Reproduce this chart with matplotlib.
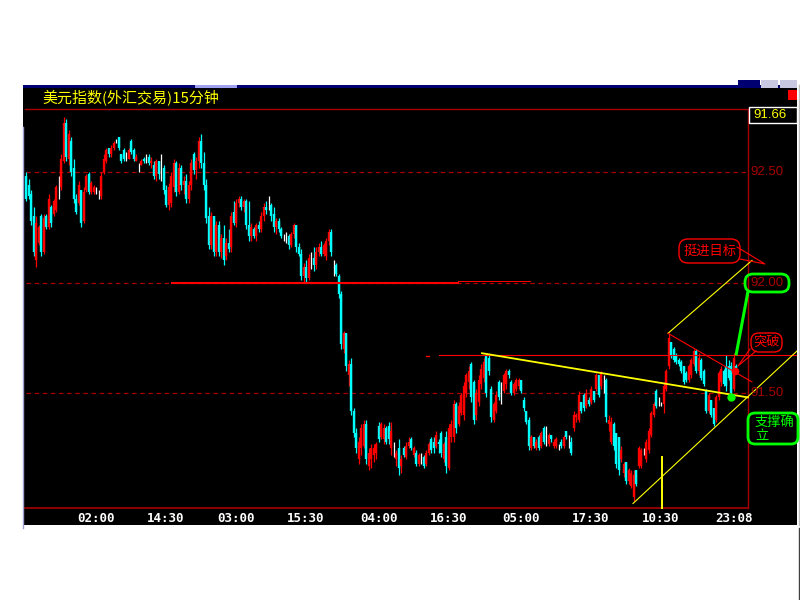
import numpy as np
import matplotlib
matplotlib.use("Agg")
from matplotlib import pyplot as plt
from matplotlib.patches import Rectangle, FancyBboxPatch
from matplotlib.lines import Line2D
from matplotlib.transforms import IdentityTransform

CJK = ['Noto Sans CJK SC', 'DejaVu Sans']
NARROW = ['Liberation Sans Narrow', 'Liberation Sans', 'DejaVu Sans']

title = "美元指数(外汇交易)15分钟"
time_labels = ["02:00", "14:30", "03:00", "15:30", "04:00",
               "16:30", "05:00", "17:30", "10:30", "23:08"]
time_pos = [28, 56, 84, 112, 141, 169, 198, 226, 254, 283]
price_levels = [92.50, 92.00, 91.50]
price_labels = ["92.50", "92.00", "91.50"]
last_price = "91.66"

# 15 min bars
opens = [
    # first block
    92.48, 92.44, 92.40, 92.30, 92.10, 92.18, 92.30, 92.14, 92.30, 92.25, 92.34, 92.31,
    92.33, 92.43, 92.43, 92.55, 92.72, 92.56, 92.64, 92.52, 92.38, 92.36, 92.42, 92.28,
    92.42, 92.49, 92.41, 92.41, 92.42, 92.40, 92.39, 92.50, 92.55, 92.61, 92.58, 92.61,
    92.64, 92.66, 92.58, 92.60, 92.57, 92.56, 92.64, 92.60, 92.55, 92.52, 92.53, 92.56,
    # second block
    92.57, 92.57, 92.54, 92.53, 92.48, 92.55, 92.52, 92.52, 92.42, 92.35, 92.36, 92.43,
    92.54, 92.41, 92.52, 92.44, 92.46, 92.38, 92.44, 92.58, 92.51, 92.55, 92.64, 92.54,
    92.44, 92.30, 92.17, 92.30, 92.14, 92.26, 92.14, 92.20, 92.12, 92.18, 92.16, 92.32,
    92.27, 92.36, 92.38, 92.34, 92.37, 92.26, 92.21, 92.24, 92.21, 92.26, 92.24, 92.30,
    92.34, 92.35, 92.35, 92.31, 92.25, 92.28, 92.24, 92.21, 92.21, 92.21, 92.17, 92.22,
    92.26, 92.16, 92.13, 92.03, 92.07, 92.02, 92.11, 92.11, 92.08, 92.14, 92.16, 92.13,
    92.12, 92.19, 92.23, 92.08, 92.08, 92.03, 91.95, 91.70, 91.77, 91.58, 91.63, 91.42,
    91.32, 91.20, 91.25, 91.26, 91.36, 91.17, 91.20, 91.22, 91.23,
    # third block
    91.35, 91.30, 91.29, 91.34, 91.35, 91.25, 91.26, 91.20, 91.25, 91.17, 91.25, 91.21,
    91.26, 91.29, 91.22, 91.23, 91.18, 91.22, 91.21, 91.18, 91.23, 91.29, 91.28, 91.26,
    91.28, 91.32, 91.20, 91.30, 91.16, 91.30, 91.30, 91.45, 91.36, 91.41, 91.40, 91.50,
    91.55, 91.63, 91.55, 91.40, 91.46, 91.54, 91.57, 91.67, 91.66, 91.52, 91.38, 91.42,
    91.55, 91.50, 91.51, 91.54, 91.60, 91.55, 91.50, 91.52, 91.53, 91.56,
    # last block
    91.47, 91.42, 91.38, 91.25, 91.30, 91.25, 91.30, 91.26, 91.34, 91.30, 91.27, 91.31,
    91.26, 91.26, 91.25, 91.28, 91.26, 91.33, 91.29, 91.28, 91.34, 91.39, 91.38, 91.46,
    91.49, 91.44, 91.47, 91.46, 91.51, 91.52, 91.58, 91.53, 91.55, 91.56, 91.36, 91.28,
    91.36, 91.32, 91.30, 91.20, 91.14, 91.19, 91.10, 91.08, 91.03, 91.15, 91.17, 91.17,
    91.23, 91.20, 91.24, 91.31, 91.40, 91.51, 91.46, 91.45, 91.45, 91.52, 91.62, 91.73,
    91.70, 91.67, 91.65, 91.64, 91.62, 91.59, 91.56, 91.58, 91.63, 91.69, 91.60, 91.65,
    91.60, 91.51, 91.42, 91.47, 91.43, 91.38, 91.48, 91.55, 91.60, 91.62, 91.62, 91.62,
    91.52, 91.62,
]
highs = [
    92.50, 92.47, 92.42, 92.34, 92.30, 92.26, 92.31, 92.31, 92.31, 92.40, 92.35, 92.38,
    92.44, 92.48, 92.58, 92.75, 92.74, 92.69, 92.66, 92.56, 92.40, 92.46, 92.42, 92.43,
    92.49, 92.50, 92.46, 92.44, 92.43, 92.42, 92.50, 92.58, 92.61, 92.61, 92.62, 92.64,
    92.65, 92.66, 92.58, 92.61, 92.59, 92.61, 92.65, 92.61, 92.58, 92.54, 92.56, 92.57,
    92.58, 92.58, 92.57, 92.55, 92.56, 92.55, 92.58, 92.53, 92.44, 92.45, 92.50, 92.56,
    92.55, 92.54, 92.53, 92.48, 92.49, 92.46, 92.56, 92.59, 92.57, 92.66, 92.67, 92.59,
    92.47, 92.34, 92.32, 92.30, 92.28, 92.28, 92.22, 92.26, 92.20, 92.24, 92.32, 92.37,
    92.38, 92.39, 92.39, 92.38, 92.38, 92.37, 92.27, 92.25, 92.27, 92.28, 92.32, 92.36,
    92.37, 92.39, 92.36, 92.34, 92.29, 92.29, 92.25, 92.22, 92.23, 92.22, 92.23, 92.27,
    92.26, 92.18, 92.15, 92.09, 92.10, 92.13, 92.14, 92.16, 92.16, 92.18, 92.19, 92.18,
    92.20, 92.24, 92.24, 92.10, 92.09, 92.04, 91.96, 91.78, 91.77, 91.65, 91.66, 91.43,
    91.34, 91.30, 91.36, 91.38, 91.38, 91.25, 91.27, 91.27, 91.28,
    91.37, 91.37, 91.36, 91.35, 91.37, 91.37, 91.28, 91.24, 91.29, 91.22, 91.26, 91.28,
    91.30, 91.30, 91.26, 91.24, 91.23, 91.23, 91.22, 91.24, 91.28, 91.30, 91.30, 91.33,
    91.29, 91.33, 91.28, 91.33, 91.36, 91.38, 91.47, 91.46, 91.46, 91.50, 91.55, 91.59,
    91.62, 91.64, 91.56, 91.52, 91.58, 91.63, 91.66, 91.68, 91.67, 91.53, 91.46, 91.51,
    91.56, 91.55, 91.59, 91.61, 91.61, 91.56, 91.55, 91.57, 91.57, 91.56,
    91.48, 91.42, 91.39, 91.31, 91.30, 91.29, 91.31, 91.33, 91.35, 91.35, 91.32, 91.31,
    91.29, 91.30, 91.27, 91.29, 91.31, 91.33, 91.31, 91.30, 91.42, 91.41, 91.51, 91.46,
    91.50, 91.52, 91.48, 91.53, 91.51, 91.59, 91.58, 91.60, 91.58, 91.57, 91.40, 91.39,
    91.37, 91.32, 91.30, 91.26, 91.19, 91.19, 91.16, 91.15, 91.15, 91.15, 91.26, 91.25,
    91.25, 91.29, 91.34, 91.42, 91.46, 91.52, 91.48, 91.46, 91.55, 91.61, 91.77, 91.73,
    91.71, 91.68, 91.66, 91.65, 91.62, 91.60, 91.63, 91.66, 91.70, 91.70, 91.68, 91.66,
    91.61, 91.52, 91.50, 91.47, 91.43, 91.49, 91.60, 91.62, 91.61, 91.67, 91.65, 91.64,
    91.68, 91.63,
]
lows = [
    92.37, 92.38, 92.26, 92.12, 92.07, 92.17, 92.12, 92.13, 92.24, 92.24, 92.25, 92.30,
    92.32, 92.38, 92.42, 92.54, 92.55, 92.53, 92.48, 92.36, 92.31, 92.35, 92.25, 92.27,
    92.41, 92.40, 92.40, 92.40, 92.40, 92.38, 92.38, 92.49, 92.54, 92.57, 92.57, 92.60,
    92.63, 92.60, 92.54, 92.55, 92.55, 92.56, 92.58, 92.55, 92.55, 92.50, 92.53, 92.54,
    92.54, 92.53, 92.52, 92.47, 92.46, 92.47, 92.46, 92.40, 92.34, 92.33, 92.34, 92.41,
    92.39, 92.40, 92.42, 92.40, 92.36, 92.36, 92.42, 92.49, 92.47, 92.52, 92.52, 92.42,
    92.27, 92.15, 92.15, 92.12, 92.12, 92.12, 92.11, 92.08, 92.10, 92.14, 92.14, 92.26,
    92.25, 92.34, 92.33, 92.32, 92.24, 92.19, 92.19, 92.20, 92.19, 92.23, 92.23, 92.28,
    92.31, 92.33, 92.28, 92.23, 92.22, 92.23, 92.20, 92.19, 92.18, 92.15, 92.16, 92.20,
    92.14, 92.12, 92.01, 92.00, 92.00, 92.01, 92.06, 92.05, 92.06, 92.12, 92.12, 92.12,
    92.10, 92.17, 92.12, 92.03, 92.03, 91.93, 91.70, 91.68, 91.60, 91.53, 91.40, 91.30,
    91.23, 91.18, 91.22, 91.25, 91.18, 91.15, 91.16, 91.19, 91.20,
    91.28, 91.29, 91.27, 91.27, 91.27, 91.22, 91.21, 91.17, 91.13, 91.14, 91.21, 91.20,
    91.25, 91.24, 91.21, 91.17, 91.17, 91.18, 91.16, 91.17, 91.22, 91.23, 91.23, 91.25,
    91.23, 91.21, 91.19, 91.14, 91.15, 91.28, 91.28, 91.32, 91.35, 91.40, 91.38, 91.48,
    91.52, 91.46, 91.36, 91.38, 91.44, 91.52, 91.55, 91.48, 91.58, 91.37, 91.37, 91.41,
    91.47, 91.45, 91.50, 91.52, 91.57, 91.49, 91.49, 91.51, 91.52, 91.50,
    91.42, 91.36, 91.24, 91.24, 91.25, 91.24, 91.24, 91.25, 91.27, 91.26, 91.26, 91.28,
    91.25, 91.25, 91.24, 91.25, 91.25, 91.29, 91.25, 91.22, 91.33, 91.37, 91.37, 91.41,
    91.42, 91.43, 91.44, 91.45, 91.46, 91.51, 91.48, 91.52, 91.50, 91.37, 91.33, 91.27,
    91.24, 91.16, 91.13, 91.19, 91.12, 91.09, 91.09, 91.07, 91.01, 91.08, 91.16, 91.16,
    91.22, 91.19, 91.23, 91.30, 91.39, 91.43, 91.44, 91.44, 91.41, 91.51, 91.61, 91.66,
    91.64, 91.63, 91.62, 91.59, 91.54, 91.55, 91.55, 91.57, 91.62, 91.59, 91.58, 91.56,
    91.53, 91.41, 91.41, 91.39, 91.35, 91.37, 91.47, 91.53, 91.53, 91.51, 91.56, 91.49,
    91.51, 91.59,
]
closes = [
    92.38, 92.39, 92.28, 92.14, 92.27, 92.25, 92.14, 92.29, 92.25, 92.38, 92.27, 92.37,
    92.43, 92.43, 92.56, 92.72, 92.57, 92.67, 92.50, 92.38, 92.32, 92.44, 92.27, 92.41,
    92.48, 92.41, 92.45, 92.43, 92.42, 92.40, 92.48, 92.56, 92.60, 92.58, 92.61, 92.63,
    92.64, 92.61, 92.55, 92.56, 92.57, 92.60, 92.59, 92.56, 92.57, 92.52, 92.55, 92.55,
    92.57, 92.54, 92.55, 92.48, 92.55, 92.49, 92.52, 92.42, 92.35, 92.43, 92.48, 92.54,
    92.41, 92.52, 92.44, 92.46, 92.38, 92.44, 92.54, 92.51, 92.55, 92.64, 92.54, 92.44,
    92.29, 92.17, 92.30, 92.14, 92.26, 92.14, 92.20, 92.10, 92.18, 92.15, 92.30, 92.27,
    92.36, 92.38, 92.34, 92.37, 92.26, 92.21, 92.25, 92.21, 92.26, 92.24, 92.30, 92.34,
    92.33, 92.35, 92.30, 92.25, 92.28, 92.24, 92.21, 92.21, 92.21, 92.17, 92.22, 92.26,
    92.16, 92.13, 92.03, 92.07, 92.02, 92.11, 92.11, 92.08, 92.14, 92.16, 92.13, 92.17,
    92.19, 92.23, 92.14, 92.08, 92.04, 91.95, 91.72, 91.77, 91.62, 91.63, 91.42, 91.32,
    91.25, 91.28, 91.34, 91.36, 91.20, 91.23, 91.25, 91.25, 91.27,
    91.29, 91.36, 91.34, 91.28, 91.29, 91.33, 91.26, 91.23, 91.16, 91.20, 91.22, 91.26,
    91.28, 91.25, 91.25, 91.18, 91.22, 91.22, 91.17, 91.23, 91.27, 91.24, 91.25, 91.31,
    91.27, 91.23, 91.27, 91.17, 91.34, 91.36, 91.45, 91.34, 91.44, 91.49, 91.53, 91.58,
    91.60, 91.48, 91.38, 91.50, 91.56, 91.61, 91.64, 91.50, 91.60, 91.39, 91.45, 91.49,
    91.48, 91.50, 91.58, 91.60, 91.58, 91.50, 91.54, 91.56, 91.56, 91.51,
    91.43, 91.37, 91.26, 91.30, 91.26, 91.28, 91.25, 91.32, 91.28, 91.30, 91.31, 91.29,
    91.28, 91.29, 91.25, 91.26, 91.30, 91.30, 91.29, 91.23, 91.40, 91.40, 91.49, 91.42,
    91.43, 91.50, 91.45, 91.52, 91.47, 91.58, 91.49, 91.59, 91.55, 91.39, 91.38, 91.37,
    91.26, 91.18, 91.15, 91.24, 91.18, 91.10, 91.15, 91.14, 91.13, 91.09, 91.25, 91.24,
    91.23, 91.28, 91.33, 91.41, 91.45, 91.44, 91.46, 91.45, 91.53, 91.60, 91.75, 91.67,
    91.65, 91.64, 91.63, 91.60, 91.55, 91.56, 91.62, 91.65, 91.69, 91.60, 91.66, 91.57,
    91.54, 91.42, 91.49, 91.40, 91.36, 91.48, 91.59, 91.61, 91.54, 91.53, 91.57, 91.50,
    91.66, 91.60,
]

# drawn studies (bar index, price)
resist_x, resist_y = [182.4, 288.8], [91.68, 91.48]
support_x, support_y = [242.8, 308.4], [91.00, 91.69]
upper_x, upper_y = [256.8, 290.4], [91.77, 92.10]
fall_x, fall_y = [256.8, 290.4], [91.77, 91.55]
break_x, break_y = [284.0, 288.8], [91.67, 91.96]
mark_x, mark_y = 254.4, [91.21, 90.98]
neck_price, neck_from = 91.672, 165.2
base_price, base_from, base_to = 92.00, 58.4, 172.8
red_dot = (283.6, 91.60)
green_dot = (282.0, 91.48)

W, H = 800, 600
RED = '#ff0000'
CYAN = '#00ffff'
DARK = '#a80000'
GREEN = '#00ff00'
YEL = '#ffff00'


def X(px):
    return (px - 26) / 2.5


def Y(py):
    return 92.5 - (py - 172) / 221.0


fig = plt.figure(figsize=(8, 6), dpi=100)
fig.patch.set_facecolor('white')
ax = fig.add_axes([23 / W, 1 - 525 / H, (797 - 23) / W, (525 - 88) / H])
ax.set_facecolor('black')
ax.set_xlim(X(23), X(797))
ax.set_ylim(Y(525), Y(88))
ax.axis('off')
ax.add_patch(Rectangle((0, 0), 1, 1, transform=ax.transAxes, color='black', zorder=0))


def fig_rect(x0, y0, x1, y1, **kw):
    fig.add_artist(Rectangle((x0 / W, 1 - y1 / H), (x1 - x0) / W, (y1 - y0) / H,
                             transform=fig.transFigure, **kw))


def fig_line(xs, ys, color, lw):
    fig.add_artist(Line2D([x / W for x in xs], [1 - y / H for y in ys],
                          transform=fig.transFigure, color=color, lw=lw, zorder=6))


def round_box(x0, y0, x1, y1, color, lw, r):
    fig.add_artist(FancyBboxPatch((x0, H - y1), x1 - x0, y1 - y0,
                                  boxstyle="round,pad=0,rounding_size=%g" % r,
                                  transform=IdentityTransform(), ec=color,
                                  fc='none', lw=lw, zorder=6))


# window chrome
fig_rect(23, 85, 797, 88, color='#000070', lw=0)
fig_rect(195, 85, 237, 88, color='#a0a0f0', lw=0)
fig_rect(738, 80, 760, 88, color='#000070', lw=0)
fig_rect(761, 80, 778, 88, color='#c8c8e0', lw=0)
fig_rect(780, 80, 797, 88, color='#c8c8e0', lw=0)
fig_line([22.5, 22.5], [127, 528], '#a0a0d0', 1)
fig_line([798.5, 798.5], [85, 525], '#c0c0c0', 1)
fig_line([798.5, 798.5], [528, 600], '#404040', 1)
fig_rect(788, 90, 797, 100, color=RED, lw=0)

# frame and grid
ax.plot([X(25), X(748)], [Y(109), Y(109)], color=DARK, lw=1, zorder=1)
ax.plot([X(25), X(748)], [Y(508), Y(508)], color=DARK, lw=1.2, zorder=1)
ax.plot([X(748), X(748)], [Y(109), Y(508)], color=DARK, lw=1, zorder=1)
for p in price_levels:
    ax.plot([X(26), X(748)], [p, p], color=DARK, lw=0.9, ls=(0, (3.6, 2.9)), zorder=1)

# candles
o = np.array(opens)
c = np.array(closes)
x = np.arange(len(c))
cols = [RED if cc > oo else (CYAN if cc < oo else 'white') for oo, cc in zip(o, c)]
ax.vlines(x, lows, highs, colors=cols, lw=0.9, zorder=2)
ax.vlines(x, np.minimum(o, c), np.maximum(o, c), colors=cols, lw=1.7, zorder=2)

# studies
ax.plot([base_from, base_to], [base_price, base_price], color=RED, lw=1.5, zorder=3)
ax.plot([base_to, X(530)], [base_price + 0.006, base_price + 0.006], color=RED, lw=0.7, zorder=3)
ax.plot([X(426), X(429)], [neck_price - 0.004, neck_price - 0.004], color=RED, lw=1, zorder=3)
ax.plot([neck_from, X(797)], [neck_price, neck_price], color=RED, lw=0.8, zorder=3)
ax.plot(resist_x, resist_y, color=YEL, lw=1.3, zorder=3)
ax.plot(support_x, support_y, color=YEL, lw=0.8, zorder=3)
ax.plot(upper_x, upper_y, color=YEL, lw=0.8, zorder=3)
ax.plot([mark_x, mark_x], mark_y, color=YEL, lw=1.4, zorder=3)
ax.plot(fall_x, fall_y, color=RED, lw=0.8, zorder=3)
ax.plot(break_x, break_y, color=GREEN, lw=2.2, zorder=4, solid_capstyle='butt')
ax.plot(*red_dot, 'o', color=RED, ms=5.5, mew=0, zorder=5)
ax.plot(*green_dot, 'o', color=GREEN, ms=6, mew=0, zorder=5)

# text
fig.text(42 / W, 1 - 97 / H, title, color=YEL, fontsize=10.8, family=CJK,
         va='center', ha='left')
for pos, lab in zip(time_pos, time_labels):
    ax.text(pos, Y(518), lab, color='white', fontsize=9, family='DejaVu Sans Mono',
            weight='bold', ha='center', va='center')
for p, lab in zip(price_levels, price_labels):
    ax.text(X(750), p, lab, color=DARK, fontsize=9.5, family=NARROW,
            ha='left', va='center', zorder=5)

fig_rect(749, 107, 797, 123, fc='black', ec='white', lw=1, zorder=5)
fig.text(753 / W, 1 - 115 / H, last_price, color=YEL, fontsize=9.5, family=NARROW,
         va='center', ha='left', zorder=6)

# callouts
round_box(679, 239, 740, 263, RED, 1, 9)
fig.text(710 / W, 1 - 251 / H, "挺进目标", color=RED, fontsize=9.5, family=CJK,
         ha='center', va='center', zorder=6)
fig_line([737, 765, 740], [247, 264, 259], RED, 0.8)

round_box(751, 333, 782, 352, RED, 1, 8)
fig.text(766.5 / W, 1 - 342.5 / H, "突破", color=RED, fontsize=9.5, family=CJK,
         ha='center', va='center', zorder=6)
fig_line([750, 738, 756], [349, 366, 351], RED, 0.8)

round_box(745, 274, 789, 292, GREEN, 2, 8)

round_box(748, 413, 798, 444, GREEN, 2, 7)
fig.text(755 / W, 1 - 422 / H, "支撑确", color=GREEN, fontsize=9.5, family=CJK,
         ha='left', va='center', zorder=6)
fig.text(755 / W, 1 - 437 / H, "立", color=GREEN, fontsize=9.5, family=CJK,
         ha='left', va='center', zorder=6)

fig.savefig("out.png", dpi=100, facecolor='white')
